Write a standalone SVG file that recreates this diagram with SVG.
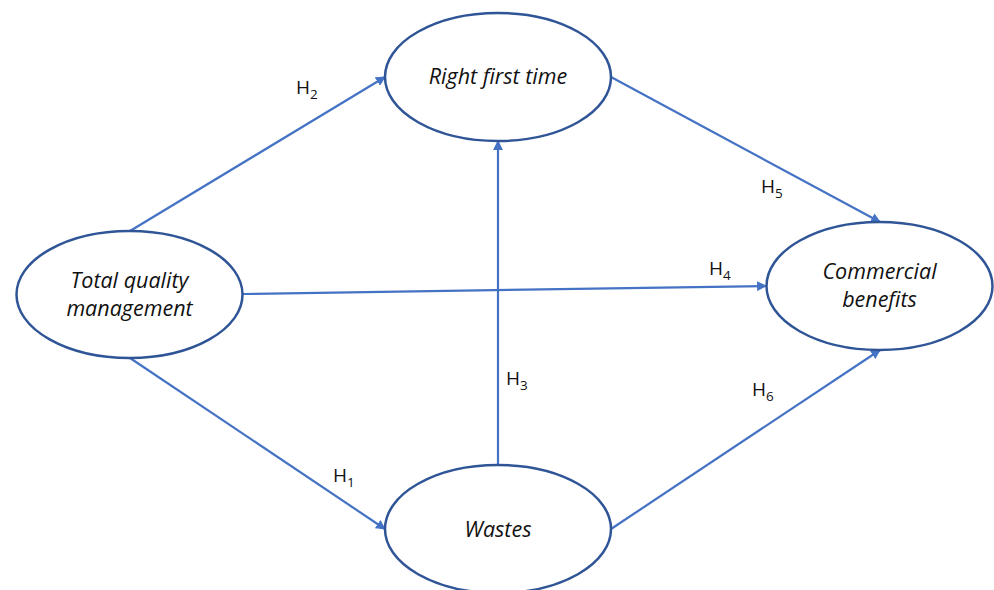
<svg xmlns="http://www.w3.org/2000/svg" width="994" height="590" viewBox="0 0 994 590">
<style>
.node ellipse{fill:#fff;stroke:#2F5597;stroke-width:2.5}
.node text{font-family:"Open Sans","Liberation Sans",sans-serif;font-style:italic;font-size:21.5px;fill:#111;text-anchor:middle}
.conn line{stroke:#4472C4;stroke-width:2.2;fill:none}
.lbl{font-family:"Open Sans","Liberation Sans",sans-serif;font-size:19px;fill:#111}
.lbl tspan.s{font-size:13.5px}
</style>
<defs>
<marker id="ah" viewBox="0 0 10 10" refX="9" refY="5" markerWidth="4.5" markerHeight="4.5" orient="auto" markerUnits="strokeWidth">
<path d="M0,0 L10,5 L0,10 Z" fill="#4472C4"/>
</marker>
</defs>
<rect width="994" height="590" fill="#fff"/>
<g id="connectors" class="conn">
<line x1="130" y1="231" x2="385" y2="77" marker-end="url(#ah)"/>
<line x1="611" y1="77" x2="880" y2="222" marker-end="url(#ah)"/>
<line x1="243" y1="294" x2="766" y2="286" marker-end="url(#ah)"/>
<line x1="498" y1="465" x2="498" y2="141" marker-end="url(#ah)"/>
<line x1="130" y1="358" x2="385" y2="529" marker-end="url(#ah)"/>
<line x1="611" y1="529" x2="880" y2="350" marker-end="url(#ah)"/>
</g>
<g id="labels">
<text class="lbl" x="296" y="94">H<tspan class="s" dy="5">2</tspan></text>
<text class="lbl" x="761" y="193">H<tspan class="s" dy="5">5</tspan></text>
<text class="lbl" x="709" y="275">H<tspan class="s" dy="5">4</tspan></text>
<text class="lbl" x="506" y="385">H<tspan class="s" dy="5">3</tspan></text>
<text class="lbl" x="333" y="482">H<tspan class="s" dy="5">1</tspan></text>
<text class="lbl" x="752" y="396">H<tspan class="s" dy="5">6</tspan></text>
</g>
<g id="node-rft" class="node">
<ellipse cx="498" cy="77" rx="113" ry="64"/>
<text x="498" y="84">Right first time</text>
</g>
<g id="node-tqm" class="node">
<ellipse cx="129.5" cy="294.5" rx="113" ry="63.5"/>
<text x="129.5" y="288">Total quality</text>
<text x="129.5" y="316">management</text>
</g>
<g id="node-cb" class="node">
<ellipse cx="879.5" cy="286" rx="113" ry="64"/>
<text x="879.5" y="279">Commercial</text>
<text x="879.5" y="307">benefits</text>
</g>
<g id="node-wastes" class="node">
<ellipse cx="498" cy="529" rx="113" ry="64"/>
<text x="498" y="537">Wastes</text>
</g>
</svg>
